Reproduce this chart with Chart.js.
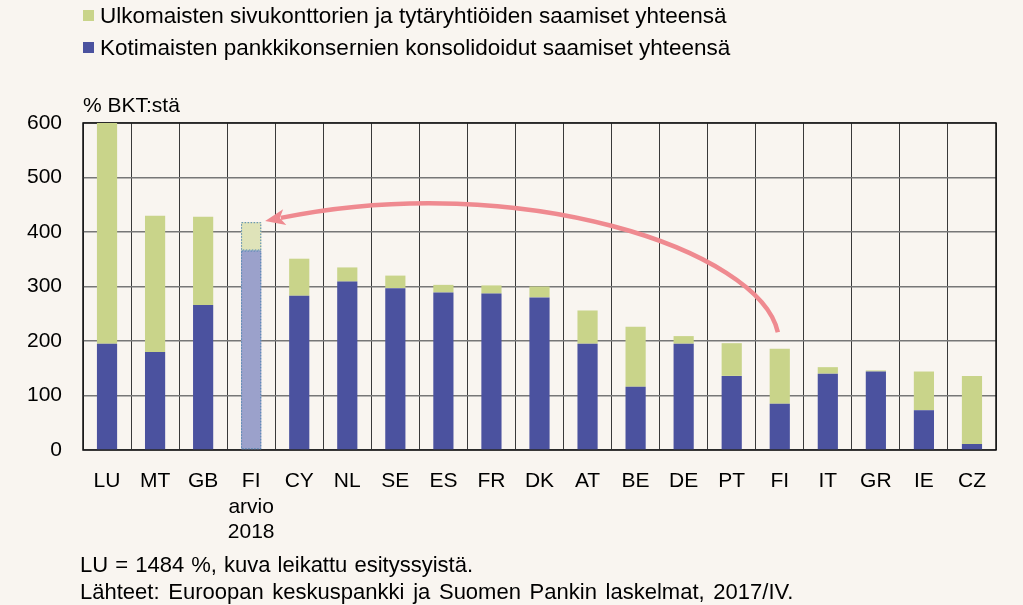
<!DOCTYPE html>
<html>
<head>
<meta charset="utf-8">
<script src="https://cdn.jsdelivr.net/npm/chart.js@4"></script>
<style>
  html, body { margin: 0; padding: 0; background: #f9f5f0; }
  body { width: 1023px; height: 605px; position: relative; overflow: hidden;
         font-family: "Liberation Sans", Arial, sans-serif; color: #000; }
  #wrap { position: absolute; left: 0; top: 0; width: 1023px; height: 605px; }
  .txt { position: absolute; font-size: 21px; white-space: nowrap; line-height: 1; }
  .foot { position: absolute; left: 80px; font-size: 22px; white-space: nowrap; line-height: 1; }
  .leg { position: absolute; left: 83px; font-size: 22.5px; white-space: nowrap; line-height: 1; }
  .leg i { display: inline-block; width: 11px; height: 11px; margin-right: 6px; vertical-align: 2px; }
</style>
</head>
<body>
<div id="wrap"><canvas id="chart"></canvas></div>
<div id="legend"></div>
<div class="txt" style="left:83px; top:94px;">% BKT:stä</div>
<div class="foot" style="top:554px; word-spacing:1px;">LU = 1484 %, kuva leikattu esityssyistä.</div>
<div class="foot" style="top:581px; word-spacing:2.6px;">Lähteet: Euroopan keskuspankki ja Suomen Pankin laskelmat, 2017/IV.</div>

<script>
// ---- data (% of GDP) ----
const categories = ['LU', 'MT', 'GB', ['FI', 'arvio', '2018'], 'CY', 'NL', 'SE', 'ES', 'FR', 'DK',
                    'AT', 'BE', 'DE', 'PT', 'FI', 'IT', 'GR', 'IE', 'CZ'];
const domestic = [195, 180, 266, 366, 283, 309, 297, 289, 287, 280, 195, 116, 195, 136, 85, 140, 144, 73, 11];
const foreign  = [1289, 250, 162, 52, 68, 26, 23, 14, 15, 20, 61, 110, 14, 60, 101, 12, 2, 71, 125];
const yTicks = [0, 100, 200, 300, 400, 500, 600];

const labelForeign  = 'Ulkomaisten sivukonttorien ja tytäryhtiöiden saamiset yhteensä';
const labelDomestic = 'Kotimaisten pankkikonsernien konsolidoidut saamiset yhteensä';

// arrow from FI (2017) to FI estimate (2018), in data units: [category index, value]
const arrowX = [13.96, 13.59, 8.59, 3.29];
const arrowY = [216, 367, 515, 420];

const estimateIdx = 3;

const BLUE = '#4b529f', GREEN = '#c9d48a';
const BLUE_EST = '#9ba1cb', GREEN_EST = '#dfe3b9';

// legend (foreign listed first, as in the original)
document.getElementById('legend').innerHTML = `
  <div class="leg" style="top:5px"><i style="background:${GREEN}"></i>${labelForeign}</div>
  <div class="leg" style="top:37px"><i style="background:${BLUE}"></i>${labelDomestic}</div>`;

const framePlugin = {
  id: 'frame',
  beforeDatasetsDraw(chart) {
    const { ctx, chartArea: a } = chart;
    ctx.save();
    ctx.strokeStyle = '#111';
    ctx.lineWidth = 1.5;
    ctx.strokeRect(a.left, a.top, a.right - a.left, a.bottom - a.top);
    ctx.restore();
  }
};

// dotted outline round the estimate bar
const estimatePlugin = {
  id: 'estimate',
  afterDatasetsDraw(chart) {
    const { ctx } = chart;
    ctx.save();
    ctx.strokeStyle = '#4f86b0';
    ctx.lineWidth = 1;
    ctx.setLineDash([1.5, 1.5]);
    chart.data.datasets.forEach((ds, i) => {
      const bar = chart.getDatasetMeta(i).data[estimateIdx];
      const w = bar.width;
      ctx.strokeRect(bar.x - w / 2 + 0.5, Math.min(bar.y, bar.base) + 0.5, w - 1, Math.abs(bar.base - bar.y) - 1);
    });
    ctx.restore();
  }
};

const arrowPlugin = {
  id: 'arrow',
  afterDatasetsDraw(chart) {
    const { ctx, scales: { x, y } } = chart;
    const p = arrowX.map((v, i) => [x.getPixelForValue(v), y.getPixelForValue(arrowY[i])]);
    const ang = Math.atan2(p[3][1] - p[2][1], p[3][0] - p[2][0]);
    const headLen = 20, headW = 8;
    const endX = p[3][0] - Math.cos(ang) * (headLen - 4);
    const endY = p[3][1] - Math.sin(ang) * (headLen - 4);
    ctx.save();
    ctx.strokeStyle = '#ef8a90';
    ctx.fillStyle = '#ef8a90';
    ctx.lineWidth = 4.5;
    ctx.lineCap = 'butt';
    ctx.beginPath();
    ctx.moveTo(p[0][0], p[0][1]);
    ctx.bezierCurveTo(p[1][0], p[1][1], p[2][0], p[2][1], endX, endY);
    ctx.stroke();
    ctx.beginPath();
    ctx.moveTo(p[3][0], p[3][1]);
    ctx.lineTo(p[3][0] - Math.cos(ang) * headLen - Math.sin(ang) * headW,
               p[3][1] - Math.sin(ang) * headLen + Math.cos(ang) * headW);
    ctx.lineTo(p[3][0] - Math.cos(ang) * headLen * 0.75, p[3][1] - Math.sin(ang) * headLen * 0.75);
    ctx.lineTo(p[3][0] - Math.cos(ang) * headLen + Math.sin(ang) * headW,
               p[3][1] - Math.sin(ang) * headLen - Math.cos(ang) * headW);
    ctx.closePath();
    ctx.fill();
    ctx.restore();
  }
};

const font = { family: '"Liberation Sans", Arial, sans-serif', size: 21 };

new Chart(document.getElementById('chart'), {
  type: 'bar',
  data: {
    labels: categories,
    datasets: [
      {
        label: labelDomestic,
        data: domestic,
        backgroundColor: domestic.map((_, i) => i === estimateIdx ? BLUE_EST : BLUE),
        clip: 0,
      },
      {
        label: labelForeign,
        data: foreign,
        backgroundColor: foreign.map((_, i) => i === estimateIdx ? GREEN_EST : GREEN),
        clip: 0,
      },
    ]
  },
  options: {
    responsive: true,
    maintainAspectRatio: false,
    animation: false,
    categoryPercentage: 1,
    barPercentage: 0.42,
    layout: { padding: { top: 123, right: 27, left: 0, bottom: 0 } },
    plugins: { legend: { display: false }, tooltip: { enabled: false } },
    scales: {
      x: {
        stacked: true,
        grid: { offset: true, color: '#3a3a3a', lineWidth: 1, drawTicks: false },
        border: { display: false },
        ticks: { color: '#000', font, padding: 19, maxRotation: 0, autoSkip: false },
        afterFit: s => { s.height = 155; },
      },
      y: {
        stacked: true,
        min: 0,
        max: 600,
        afterBuildTicks: s => { s.ticks = yTicks.map(v => ({ value: v })); },
        grid: { color: '#777', lineWidth: 1.5, drawTicks: false },
        border: { display: false },
        ticks: { color: '#000', font, padding: 21 },
        afterFit: s => { s.width = 83; },
      },
    },
  },
  plugins: [framePlugin, estimatePlugin, arrowPlugin],
});
</script>
</body>
</html>
